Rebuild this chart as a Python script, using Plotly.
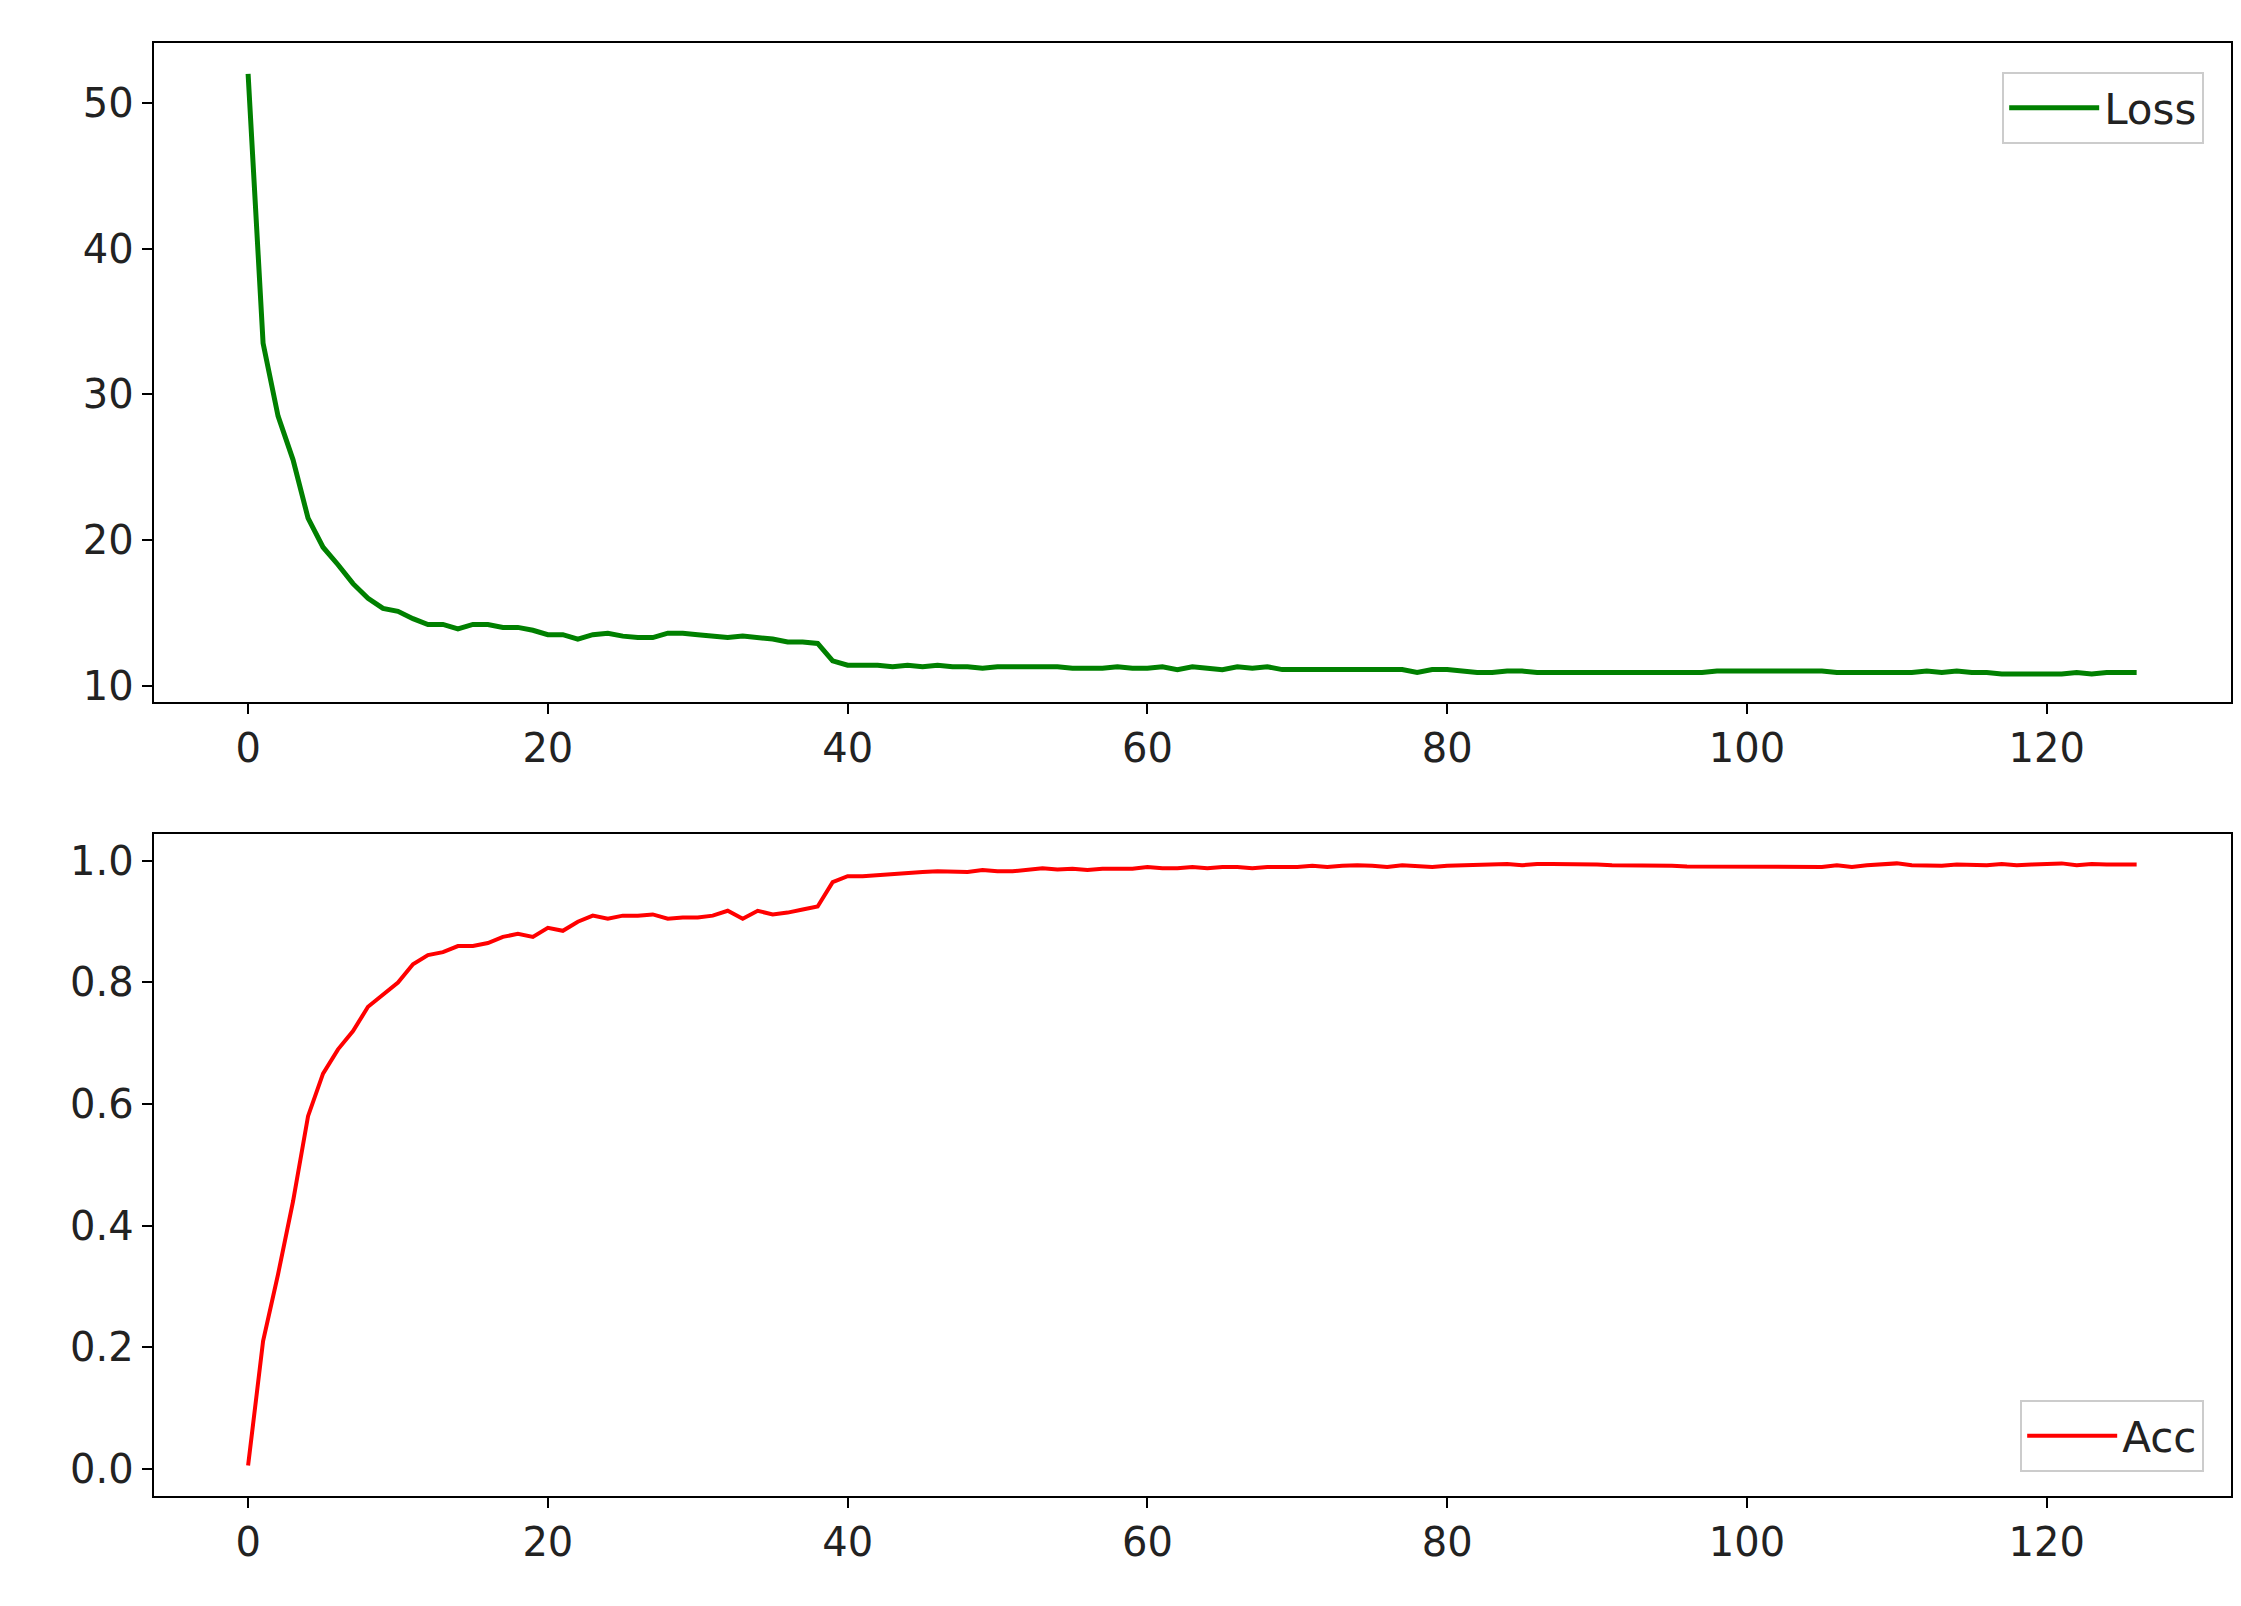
import plotly.graph_objects as go

epochs = list(range(127))
loss = [52.0, 33.5, 28.5, 25.5, 21.5, 19.5, 18.3, 17.0, 16.0, 15.3, 15.1, 14.6, 14.2, 14.2, 13.9, 14.2, 14.2, 14.0, 14.0, 13.8,
        13.5, 13.5, 13.2, 13.5, 13.6, 13.4, 13.3, 13.3, 13.6, 13.6, 13.5, 13.4, 13.3, 13.4, 13.3, 13.2, 13.0, 13.0, 12.9, 11.7,
        11.4, 11.4, 11.4, 11.3, 11.4, 11.3, 11.4, 11.3, 11.3, 11.2, 11.3, 11.3, 11.3, 11.3, 11.3, 11.2, 11.2, 11.2, 11.3, 11.2,
        11.2, 11.3, 11.1, 11.3, 11.2, 11.1, 11.3, 11.2, 11.3, 11.1, 11.1, 11.1, 11.1, 11.1, 11.1, 11.1, 11.1, 11.1, 10.9, 11.1,
        11.1, 11.0, 10.9, 10.9, 11.0, 11.0, 10.9, 10.9, 10.9, 10.9, 10.9, 10.9, 10.9, 10.9, 10.9, 10.9, 10.9, 10.9, 11.0, 11.0,
        11.0, 11.0, 11.0, 11.0, 11.0, 11.0, 10.9, 10.9, 10.9, 10.9, 10.9, 10.9, 11.0, 10.9, 11.0, 10.9, 10.9, 10.8, 10.8, 10.8,
        10.8, 10.8, 10.9, 10.8, 10.9, 10.9, 10.9]
acc = [0.005, 0.21, 0.32, 0.44, 0.58, 0.65, 0.69, 0.72, 0.76, 0.78, 0.80, 0.83, 0.845, 0.85, 0.86, 0.86, 0.865, 0.875, 0.88, 0.875,
       0.89, 0.885, 0.90, 0.91, 0.905, 0.91, 0.91, 0.912, 0.905, 0.907, 0.907, 0.91, 0.918, 0.905, 0.918, 0.912, 0.915, 0.92, 0.925, 0.965,
       0.975, 0.975, 0.977, 0.978, 0.98, 0.982, 0.983, 0.983, 0.982, 0.985, 0.983, 0.983, 0.985, 0.988, 0.986, 0.987, 0.985, 0.987, 0.987, 0.987,
       0.99, 0.988, 0.988, 0.99, 0.988, 0.99, 0.99, 0.988, 0.99, 0.99, 0.99, 0.992, 0.99, 0.992, 0.993, 0.992, 0.99, 0.993, 0.992, 0.99,
       0.992, 0.993, 0.993, 0.995, 0.995, 0.993, 0.995, 0.995, 0.995, 0.994, 0.994, 0.993, 0.993, 0.993, 0.992, 0.992, 0.991, 0.991, 0.99, 0.99,
       0.99, 0.99, 0.99, 0.99, 0.99, 0.99, 0.993, 0.99, 0.993, 0.995, 0.996, 0.993, 0.992, 0.992, 0.994, 0.993, 0.993, 0.995, 0.993, 0.994,
       0.995, 0.996, 0.993, 0.995, 0.994, 0.994, 0.994]

fig = go.Figure()
fig.add_trace(go.Scatter(x=epochs, y=loss, mode="lines", name="Loss", line=dict(color="green", width=5),
                         xaxis="x", yaxis="y", legend="legend", showlegend=True))
fig.add_trace(go.Scatter(x=epochs, y=acc, mode="lines", name="Acc", line=dict(color="red", width=4),
                         xaxis="x2", yaxis="y2", legend="legend2", showlegend=True))

ax = dict(showgrid=False, zeroline=False, showline=True, linecolor="black", linewidth=2, mirror=True,
          ticks="outside", ticklen=10, tickwidth=2, tickcolor="black")
fig.update_layout(
    width=2241, height=1606, paper_bgcolor="white", plot_bgcolor="white",
    margin=dict(l=0, r=0, t=0, b=0), showlegend=True,
    font=dict(family="DejaVu Sans", size=40, color="#222"),
    xaxis=dict(**ax, domain=[0.065, 0.992], range=[-6.3, 132.3], tickvals=[0, 20, 40, 60, 80, 100, 120], anchor="y"),
    yaxis=dict(**ax, domain=[0.566, 0.978], range=[8.85, 54.1], tickvals=[10, 20, 30, 40, 50], anchor="x"),
    xaxis2=dict(**ax, domain=[0.065, 0.992], range=[-6.3, 132.3], tickvals=[0, 20, 40, 60, 80, 100, 120], anchor="y2"),
    yaxis2=dict(**ax, domain=[0.070, 0.484], range=[-0.045, 1.045], tickvals=[0, 0.2, 0.4, 0.6, 0.8, 1.0],
                tickformat=".1f", anchor="x2"),
    legend=dict(x=0.98, y=0.96, xanchor="right", yanchor="top", bordercolor="#ccc", borderwidth=2,
                bgcolor="white", font=dict(size=42), itemwidth=90),
    legend2=dict(x=0.98, y=0.085, xanchor="right", yanchor="bottom", bordercolor="#ccc", borderwidth=2,
                 bgcolor="white", font=dict(size=42), itemwidth=90),
)
fig.write_html("out.html")
